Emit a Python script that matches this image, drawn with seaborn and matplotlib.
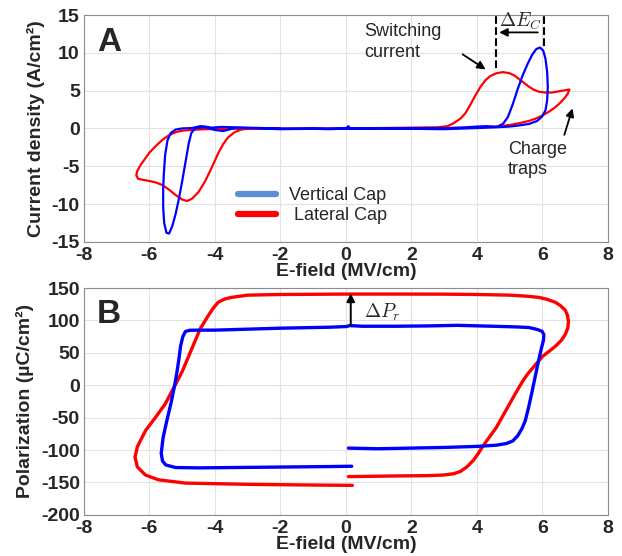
import numpy as np
import pandas as pd
import matplotlib
matplotlib.use("Agg")
import matplotlib.pyplot as plt
import seaborn as sns
from matplotlib.lines import Line2D

# ---------------- data ----------------
# Panel A: current density (A/cm^2) vs E-field (MV/cm)
a_blue_E = [0.05, 0.5, 1.0, 1.5, 2.0, 2.5, 3.0, 3.5, 4.0, 4.3, 4.6, 4.8, 4.95, 5.1, 5.25, 5.4,
            5.55, 5.7, 5.82, 5.93, 6.03, 6.1, 6.15, 6.17, 6.15, 6.1, 6.0, 5.85, 5.6, 5.3, 5.0,
            4.6, 4.0, 3.0, 2.0, 1.0, 0.5, 0.1, -0.5, -1.0, -2.0, -3.0, -3.4, -3.75, -4.0, -4.3,
            -4.6, -4.72, -4.8, -4.9, -5.0, -5.1, -5.2, -5.3, -5.4, -5.48, -5.55, -5.58, -5.58,
            -5.56, -5.52, -5.45, -5.35, -5.2, -5.0, -4.7, -4.45, -4.3, -4.1, -3.8, -3.4, -3.0,
            -2.0, -1.0, -0.3, 0.0, 0.08, 0.12]
a_blue_J = [0.0, 0.0, 0.02, 0.03, 0.05, 0.05, 0.03, 0.1, 0.25, 0.3, 0.2, 0.6, 1.5, 3.2, 5.2, 7.0,
            8.5, 9.8, 10.5, 10.7, 10.3, 9.2, 7.5, 5.5, 3.7, 2.4, 1.6, 1.0, 0.6, 0.4, 0.25,
            0.15, 0.05, -0.1, -0.05, 0.0, -0.05, 0.0, -0.1, -0.05, -0.1, 0.05, 0.05, -0.35, -0.2, 0.15,
            0.05, -0.6, -2.0, -4.5, -7.0, -9.3, -11.3, -12.9, -13.9, -13.8, -12.5, -10.4, -8.0,
            -6.0, -3.5, -1.6, -0.6, -0.15, 0.0, 0.05, 0.3, 0.25, 0.1, 0.2, 0.15, 0.1,
            0.0, 0.0, 0.0, 0.0, 0.3, 0.0]

a_red_E = [0.0, 1.0, 2.0, 2.8, 3.1, 3.3, 3.5, 3.65, 3.8, 3.95, 4.1, 4.25, 4.4, 4.6, 4.8, 5.0,
           5.15, 5.3, 5.45, 5.6, 5.75, 5.9, 6.1, 6.3, 6.5, 6.7, 6.83, 6.78, 6.68, 6.55, 6.4,
           6.2, 6.0, 5.8, 5.6, 5.3, 5.0, 4.6, 4.0, 3.0, 2.0, 1.0, 0.0, -1.0, -2.0, -3.0, -3.2,
           -3.4, -3.6, -3.75, -3.9, -4.1, -4.3, -4.5, -4.7, -4.85, -5.0, -5.2, -5.4, -5.6,
           -5.8, -6.0, -6.2, -6.35, -6.4, -6.38, -6.28, -6.15, -6.0, -5.8, -5.6, -5.4, -5.2,
           -5.0, -4.7, -4.4, -4.0, -3.5, -3.0, -2.0]
a_red_J = [0.0, 0.05, 0.1, 0.15, 0.3, 0.7, 1.3, 2.0, 3.1, 4.3, 5.4, 6.3, 6.9, 7.3, 7.45, 7.3,
           7.0, 6.5, 6.0, 5.5, 5.1, 4.85, 4.75, 4.75, 4.9, 5.05, 5.15, 4.6, 4.0, 3.4, 2.8,
           2.2, 1.7, 1.3, 1.0, 0.7, 0.45, 0.25, 0.12, 0.05, 0.0, 0.0, 0.0, -0.02, -0.05, -0.05, -0.15,
           -0.5, -1.2, -2.1, -3.3, -5.2, -7.0, -8.4, -9.3, -9.6, -9.4, -8.8, -8.1, -7.5,
           -7.15, -6.95, -6.8, -6.65, -6.2, -5.7, -4.9, -4.1, -3.2, -2.3, -1.5, -0.9, -0.5,
           -0.3, -0.2, -0.12, -0.08, -0.05, 0.0, 0.0]

# Panel B: polarization (uC/cm^2) vs E-field (MV/cm)
b_blue_E = [0.08, 0.5, 1.0, 2.0, 3.0, 4.0, 4.6, 4.9, 5.1, 5.25, 5.38, 5.48, 5.58, 5.68, 5.78,
            5.88, 5.97, 6.04, 6.05, 6.0, 5.85, 5.6, 5.2, 4.5, 3.4, 2.5, 1.5, 0.5, 0.12, 0.0,
            -0.5, -1.0, -2.0, -3.0, -4.0, -4.5, -4.76, -4.9, -4.98, -5.05, -5.1, -5.16, -5.23,
            -5.33, -5.47, -5.58, -5.64, -5.6, -5.5, -5.2, -4.5, -3.5, -2.5, -1.5, -0.5, 0.18]
b_blue_P = [-97, -97.5, -98, -97, -96, -94.4, -92.5, -90, -86, -78, -67, -55, -35, -12, 12,
            36, 56, 70, 78, 83, 86, 89, 90, 91, 92.4, 91.5, 91, 91, 92, 90.5,
            89.5, 89, 88, 86.5, 85, 85, 84.8, 83, 75, 60, 40, 20, 0,
            -25, -55, -80, -105, -117, -123, -127, -127.5, -127, -126.5, -126, -125.5, -125]

b_red_E = [0.08, 1.5, 2.5, 3.0, 3.3, 3.5, 3.7, 3.9, 4.05, 4.2, 4.4, 4.6, 4.8, 5.0, 5.2,
           5.4, 5.55, 5.7, 5.85, 6.0, 6.2, 6.4, 6.58, 6.7, 6.78, 6.8, 6.77, 6.7, 6.55, 6.4,
           6.15, 5.9, 5.5, 5.0, 4.0, 3.0, 2.0, 1.0, 0.0, -1.0, -2.0, -3.0, -3.5, -3.7,
           -3.9, -4.05, -4.2, -4.45, -4.7, -5.0, -5.31, -5.52, -5.82, -6.12, -6.37, -6.44,
           -6.37, -6.12, -5.72, -4.9, -2.9, -1.0, 0.2]
b_red_P = [-141, -140, -139.5, -138.5, -136.5, -133, -126, -115.7, -105, -93, -79, -65, -47, -29, -11,
           6, 17, 26, 35, 44, 52, 60, 69, 78, 88, 98, 108, 116, 123, 128,
           132.5, 135.5, 137.5, 139, 140, 140.5, 140.6, 140.6, 140.6, 140.3, 140, 139, 135.5, 133,
           128, 119, 107.6, 87, 57, 21, -9, -29, -50, -70, -95, -111,
           -126, -138.6, -146, -151, -153, -154, -154.5]

x_ticks = [-8, -6, -4, -2, 0, 2, 4, 6, 8]
a_y_ticks = [-15, -10, -5, 0, 5, 10, 15]
b_y_ticks = [-200, -150, -100, -50, 0, 50, 100, 150]
legend_labels = ["Vertical Cap", " Lateral Cap"]

# ---------------- style ----------------
sns.set_theme(style="whitegrid")
plt.rcParams["font.family"] = ["Liberation Sans", "DejaVu Sans"]
plt.rcParams["mathtext.fontset"] = "cm"
plt.rcParams["axes.unicode_minus"] = False

BLUE = "#0000ff"
RED = "#ff0000"

fig = plt.figure(figsize=(6.22, 5.56), dpi=100)
fig.patch.set_facecolor("white")
axA = fig.add_axes([0.135, 0.565, 0.842, 0.408])
axB = fig.add_axes([0.135, 0.074, 0.842, 0.408])

sns.lineplot(x=a_red_E, y=a_red_J, sort=False, estimator=None, color=RED, lw=1.6, ax=axA)
sns.lineplot(x=a_blue_E, y=a_blue_J, sort=False, estimator=None, color=BLUE, lw=1.6, ax=axA)
sns.lineplot(x=b_red_E, y=b_red_P, sort=False, estimator=None, color=RED, lw=2.4, ax=axB)
sns.lineplot(x=b_blue_E, y=b_blue_P, sort=False, estimator=None, color=BLUE, lw=2.4, ax=axB)

for ax, yt, ylab in [(axA, a_y_ticks, "Current density (A/cm²)"),
                     (axB, b_y_ticks, "Polarization (µC/cm²)")]:
    ax.set_xlim(-8, 8)
    ax.set_ylim(yt[0], yt[-1])
    ax.set_xticks(x_ticks)
    ax.set_yticks(yt)
    ax.set_facecolor("white")
    ax.grid(True, color="#e2e2e2", lw=0.8)
    for sp in ax.spines.values():
        sp.set_visible(True)
        sp.set_color("#8c8c8c")
        sp.set_linewidth(0.8)
    ax.tick_params(direction="in", length=3, width=0.6, color="#8c8c8c",
                   labelsize=14, pad=2)
    ax.tick_params(axis="x", pad=4)
    ax.tick_params(axis="y", pad=3)
    for lbl in ax.get_xticklabels() + ax.get_yticklabels():
        lbl.set_fontweight("bold")
    ax.set_xlabel("E-field (MV/cm)", fontsize=14, fontweight="bold", labelpad=-1)
    ax.set_ylabel(ylab, fontsize=14, fontweight="bold", labelpad=5)

# Panel labels
axA.text(0.025, 0.945, "A", transform=axA.transAxes, fontsize=24, fontweight="bold",
         va="top", ha="left")
axB.text(0.025, 0.95, "B", transform=axB.transAxes, fontsize=24, fontweight="bold",
         va="top", ha="left")

# Legend in panel A
handles = [Line2D([0], [0], color="#5b8fd6", lw=4.5),
           Line2D([0], [0], color=RED, lw=4.5)]
axA.legend(handles, legend_labels, loc="center left", bbox_to_anchor=(0.295, 0.16),
           frameon=False, fontsize=13, handlelength=2.1, handletextpad=0.7,
           labelspacing=0.15, borderpad=0, borderaxespad=0)

# Annotations panel A
axA.text(0.55, 13.9, "Switching\ncurrent", fontsize=13, va="top", ha="left", linespacing=1.25)
axA.annotate("", xy=(4.34, 7.6), xytext=(3.5, 10.0),
             arrowprops=dict(arrowstyle="-|>", color="black", lw=1.3, mutation_scale=12))
axA.text(4.95, -1.6, "Charge\ntraps", fontsize=13, va="top", ha="left", linespacing=1.25)
axA.annotate("", xy=(6.95, 3.0), xytext=(6.65, -1.2),
             arrowprops=dict(arrowstyle="-|>", color="black", lw=1.3, mutation_scale=12))
axA.plot([4.6, 4.6], [8.0, 15], ls="--", color="black", lw=1.5)
axA.plot([6.05, 6.05], [10.9, 15], ls="--", color="black", lw=1.5)
axA.annotate("", xy=(4.6, 12.7), xytext=(5.95, 12.7),
             arrowprops=dict(arrowstyle="-|>", color="black", lw=1.3, mutation_scale=12))
axA.text(4.68, 14.2, r"$\Delta E_C$", fontsize=14, va="center", ha="left")

# Annotations panel B
axB.annotate("", xy=(0.15, 146), xytext=(0.15, 88),
             arrowprops=dict(arrowstyle="-|>", color="black", lw=1.4, mutation_scale=12))
axB.text(0.55, 112, r"$\Delta P_r$", fontsize=14, va="center", ha="left")

fig.savefig("out.png", dpi=100, facecolor="white")
